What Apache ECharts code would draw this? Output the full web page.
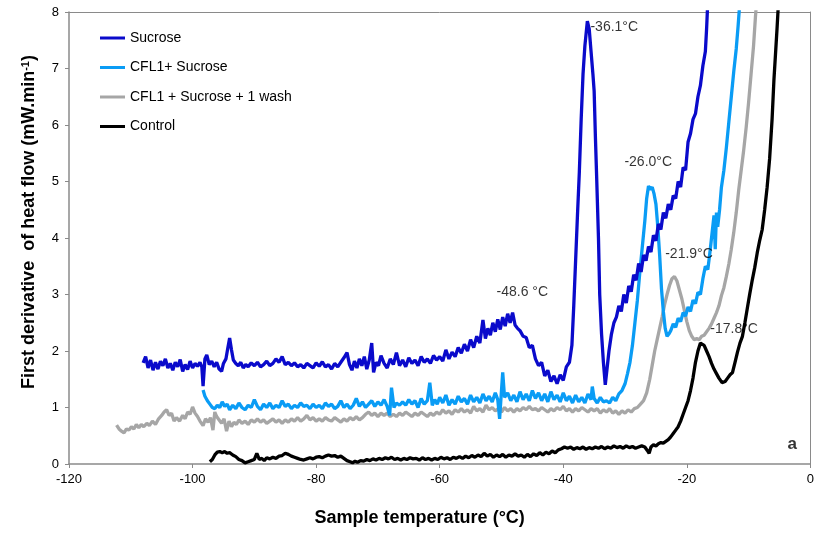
<!DOCTYPE html>
<html>
<head>
<meta charset="utf-8">
<script src="https://cdn.jsdelivr.net/npm/echarts@6/dist/echarts.min.js"></script>
<style>
  html, body { margin: 0; padding: 0; background: #fff; }
  #chart { width: 817px; height: 533px; }
</style>
</head>
<body>
<div id="chart"></div>
<script>
// [temperature °C, first derivative of heat flow mW/min]
var sucrose = [
  [-108.0,1.79],[-107.6,1.90],[-107.2,1.70],[-106.8,1.84],[-106.4,1.66],[-106.0,1.80],[-105.6,1.68],[-105.2,1.82],
  [-104.8,1.74],[-104.4,1.86],[-104.0,1.70],[-103.6,1.78],[-103.2,1.66],[-102.8,1.80],[-102.4,1.72],[-102.0,1.85],
  [-101.6,1.64],[-101.2,1.76],[-100.8,1.67],[-100.4,1.82],[-100.0,1.70],[-99.6,1.78],[-99.2,1.73],[-98.8,1.80],
  [-98.5,1.72],[-98.3,1.38],[-98.0,1.86],[-97.7,1.93],[-97.3,1.76],[-96.9,1.82],[-96.5,1.72],[-96.1,1.80],
  [-95.7,1.68],[-95.3,1.64],[-95.0,1.78],[-94.6,1.86],[-94.3,2.05],[-94.0,2.23],[-93.7,2.02],[-93.4,1.84],
  [-93.0,1.78],[-92.6,1.74],[-92.2,1.80],[-91.8,1.70],[-91.4,1.76],[-91.0,1.72],[-90.5,1.79],[-90.0,1.74],
  [-89.5,1.80],[-89.0,1.72],[-88.5,1.76],[-88.0,1.82],[-87.5,1.74],[-87.0,1.78],[-86.5,1.86],[-86.0,1.80],
  [-85.5,1.90],[-85.0,1.76],[-84.5,1.80],[-84.0,1.74],[-83.5,1.79],[-83.0,1.72],[-82.5,1.76],[-82.0,1.70],
  [-81.5,1.78],[-81.0,1.74],[-80.5,1.70],[-80.0,1.79],[-79.5,1.73],[-79.0,1.81],[-78.5,1.72],[-78.0,1.76],
  [-77.5,1.68],[-77.0,1.78],[-76.5,1.72],[-76.0,1.80],[-75.5,1.88],[-75.0,1.97],[-74.6,1.76],[-74.2,1.66],
  [-73.8,1.82],[-73.4,1.70],[-73.0,1.86],[-72.6,1.74],[-72.2,1.90],[-71.8,1.68],[-71.4,1.84],[-71.0,2.14],
  [-70.7,1.62],[-70.3,1.80],[-69.9,1.74],[-69.5,1.92],[-69.0,1.78],[-68.5,1.70],[-68.0,1.86],[-67.5,1.76],
  [-67.0,1.97],[-66.5,1.74],[-66.0,1.84],[-65.5,1.72],[-65.0,1.88],[-64.5,1.78],[-64.0,1.84],[-63.5,1.74],
  [-63.0,1.90],[-62.5,1.80],[-62.0,1.86],[-61.5,1.78],[-61.0,1.92],[-60.5,1.84],[-60.0,1.90],[-59.5,1.82],
  [-59.0,2.02],[-58.5,1.86],[-58.0,1.98],[-57.5,1.90],[-57.0,2.06],[-56.5,1.96],[-56.0,2.12],[-55.5,2.00],
  [-55.0,2.20],[-54.5,2.06],[-54.0,2.26],[-53.5,2.14],[-53.0,2.55],[-52.6,2.22],[-52.2,2.40],[-51.8,2.28],
  [-51.4,2.50],[-51.0,2.34],[-50.6,2.56],[-50.2,2.38],[-49.8,2.60],[-49.4,2.44],[-49.0,2.66],[-48.6,2.50],
  [-48.2,2.68],[-47.8,2.46],[-47.4,2.40],[-47.0,2.36],[-46.5,2.26],[-46.0,2.24],[-45.5,2.06],[-45.0,2.10],
  [-44.5,1.86],[-44.0,1.74],[-43.5,1.80],[-43.0,1.56],[-42.5,1.66],[-42.0,1.46],[-41.5,1.56],[-41.0,1.42],
  [-40.5,1.58],[-40.0,1.48],[-39.5,1.72],[-39.0,1.80],[-38.6,2.10],[-38.3,2.80],[-38.0,3.60],[-37.7,4.40],
  [-37.4,5.16],[-37.1,6.10],[-36.8,6.90],[-36.5,7.40],[-36.1,7.84],[-35.8,7.70],[-35.5,7.30],[-35.2,6.90],
  [-35.0,6.60],[-34.8,5.80],[-34.6,5.10],[-34.3,4.00],[-34.1,3.00],[-33.8,2.30],[-33.5,1.80],[-33.2,1.40],
  [-32.9,1.70],[-32.6,2.00],[-32.2,2.30],[-31.8,2.50],[-31.4,2.60],[-31.0,2.80],[-30.6,2.70],[-30.2,3.00],
  [-29.8,2.85],[-29.4,3.15],[-29.0,3.05],[-28.6,3.35],[-28.2,3.25],[-27.8,3.55],[-27.4,3.40],[-27.0,3.70],
  [-26.6,3.60],[-26.2,3.85],[-25.8,3.75],[-25.4,4.05],[-25.0,3.95],[-24.6,4.25],[-24.2,4.15],[-23.8,4.45],
  [-23.4,4.35],[-23.0,4.60],[-22.6,4.50],[-22.2,4.75],[-21.8,4.70],[-21.4,5.00],[-21.0,4.90],[-20.6,5.25],
  [-20.2,5.20],[-19.8,5.70],[-19.4,5.85],[-19.0,6.10],[-18.6,6.20],[-18.2,6.50],[-17.8,6.70],[-17.4,7.05],
  [-17.0,7.30],[-16.8,7.70],[-16.6,8.20]
];

var cfl1Sucrose = [
  [-98.3,1.31],[-98.0,1.20],[-97.6,1.12],[-97.2,1.06],[-96.8,1.00],[-96.4,0.98],[-96.0,1.04],[-95.6,1.00],
  [-95.2,1.10],[-94.8,1.02],[-94.4,1.06],[-94.0,0.96],[-93.5,1.04],[-93.0,0.98],[-92.5,1.08],[-92.0,1.00],
  [-91.5,0.96],[-91.0,1.04],[-90.5,1.00],[-90.0,1.14],[-89.5,1.02],[-89.0,0.96],[-88.5,1.06],[-88.0,1.00],
  [-87.5,1.08],[-87.0,0.98],[-86.5,1.04],[-86.0,1.00],[-85.5,1.12],[-85.0,1.02],[-84.5,1.06],[-84.0,0.98],
  [-83.5,1.04],[-83.0,1.00],[-82.5,1.08],[-82.0,1.02],[-81.5,1.04],[-81.0,0.98],[-80.5,1.06],[-80.0,1.00],
  [-79.5,1.04],[-79.0,0.98],[-78.5,1.08],[-78.0,1.02],[-77.5,1.06],[-77.0,0.98],[-76.5,1.02],[-76.0,1.12],
  [-75.5,1.00],[-75.0,1.06],[-74.5,0.98],[-74.0,1.04],[-73.5,1.16],[-73.0,1.02],[-72.5,1.10],[-72.0,1.00],
  [-71.5,1.06],[-71.0,1.12],[-70.5,1.02],[-70.0,1.10],[-69.5,1.04],[-69.0,1.14],[-68.5,1.02],[-68.1,0.86],
  [-67.8,1.35],[-67.4,1.00],[-67.0,1.08],[-66.5,1.04],[-66.0,1.10],[-65.5,1.04],[-65.0,1.14],[-64.5,1.06],
  [-64.0,1.12],[-63.5,1.00],[-63.0,1.16],[-62.5,1.06],[-62.0,1.12],[-61.6,1.44],[-61.2,1.04],[-60.8,1.14],
  [-60.4,1.06],[-60.0,1.18],[-59.5,1.08],[-59.0,1.22],[-58.5,1.04],[-58.0,1.14],[-57.5,1.06],[-57.0,1.20],
  [-56.5,1.10],[-56.0,1.16],[-55.5,1.06],[-55.0,1.22],[-54.5,1.10],[-54.0,1.18],[-53.5,1.08],[-53.0,1.24],
  [-52.5,1.12],[-52.0,1.20],[-51.5,1.10],[-51.0,1.26],[-50.6,1.14],[-50.3,0.80],[-50.0,1.30],[-49.8,1.62],
  [-49.5,1.18],[-49.0,1.26],[-48.5,1.12],[-48.0,1.22],[-47.5,1.10],[-47.0,1.28],[-46.5,1.14],[-46.0,1.24],
  [-45.5,1.12],[-45.0,1.30],[-44.5,1.16],[-44.0,1.26],[-43.5,1.12],[-43.0,1.24],[-42.5,1.10],[-42.0,1.28],
  [-41.5,1.14],[-41.0,1.22],[-40.5,1.10],[-40.0,1.26],[-39.5,1.12],[-39.0,1.20],[-38.5,1.08],[-38.0,1.22],
  [-37.5,1.10],[-37.0,1.18],[-36.5,1.08],[-36.0,1.24],[-35.5,1.14],[-35.3,1.37],[-35.0,1.16],[-34.5,1.08],
  [-34.0,1.18],[-33.5,1.10],[-33.0,1.12],[-32.5,1.08],[-32.0,1.18],[-31.5,1.12],[-31.0,1.24],[-30.5,1.30],
  [-30.0,1.42],[-29.6,1.60],[-29.2,1.80],[-28.8,2.10],[-28.4,2.50],[-28.0,2.90],[-27.6,3.40],[-27.2,3.85],
  [-26.8,4.30],[-26.5,4.70],[-26.2,4.92],[-25.9,4.86],[-25.6,4.90],[-25.3,4.78],[-25.0,4.60],[-24.7,4.20],
  [-24.4,3.70],[-24.1,3.10],[-23.8,2.70],[-23.5,2.40],[-23.2,2.26],[-22.9,2.30],[-22.6,2.36],[-22.2,2.48],
  [-21.8,2.42],[-21.4,2.58],[-21.0,2.52],[-20.6,2.68],[-20.2,2.62],[-19.8,2.78],[-19.4,2.70],[-19.0,2.90],
  [-18.6,2.84],[-18.2,3.04],[-17.8,3.00],[-17.4,3.28],[-17.0,3.50],[-16.6,3.44],[-16.2,3.80],[-15.9,3.80],
  [-15.6,4.40],[-15.4,3.80],[-15.2,4.45],[-15.0,4.20],[-14.7,4.50],[-14.4,4.90],[-14.0,5.20],[-13.6,5.60],
  [-13.2,6.05],[-12.8,6.50],[-12.4,6.95],[-12.0,7.35],[-11.7,7.75],[-11.4,8.20]
];

var cfl1Wash = [
  [-112.3,0.69],[-111.9,0.62],[-111.5,0.58],[-111.1,0.55],[-110.7,0.62],[-110.3,0.60],[-109.9,0.66],[-109.5,0.62],
  [-109.1,0.70],[-108.7,0.64],[-108.3,0.70],[-107.9,0.66],[-107.4,0.72],[-107.0,0.68],[-106.5,0.76],[-106.0,0.70],
  [-105.5,0.80],[-105.0,0.86],[-104.6,0.92],[-104.2,0.96],[-103.8,0.86],[-103.4,0.90],[-103.0,0.76],[-102.6,0.82],
  [-102.1,0.76],[-101.6,0.86],[-101.2,0.80],[-100.8,0.92],[-100.4,0.88],[-100.0,1.01],[-99.6,0.90],[-99.2,0.84],
  [-98.8,0.76],[-98.3,0.68],[-97.9,0.80],[-97.5,0.74],[-97.1,0.82],[-96.7,0.60],[-96.4,0.92],[-96.1,0.84],
  [-95.7,0.78],[-95.3,0.72],[-94.9,0.80],[-94.5,0.58],[-94.1,0.76],[-93.7,0.66],[-93.3,0.74],[-92.9,0.70],
  [-92.5,0.78],[-92.0,0.72],[-91.5,0.76],[-91.0,0.70],[-90.5,0.78],[-90.0,0.74],[-89.5,0.80],[-89.0,0.74],
  [-88.5,0.78],[-88.0,0.72],[-87.5,0.76],[-87.0,0.80],[-86.5,0.74],[-86.0,0.78],[-85.5,0.72],[-85.0,0.78],
  [-84.5,0.74],[-84.0,0.80],[-83.5,0.76],[-83.0,0.82],[-82.5,0.76],[-82.0,0.80],[-81.5,0.86],[-81.0,0.78],
  [-80.5,0.82],[-80.0,0.76],[-79.5,0.80],[-79.0,0.76],[-78.5,0.82],[-78.0,0.78],[-77.5,0.76],[-77.0,0.82],
  [-76.5,0.78],[-76.0,0.74],[-75.5,0.80],[-75.0,0.76],[-74.5,0.82],[-74.0,0.78],[-73.5,0.84],[-73.0,0.78],
  [-72.5,0.82],[-72.0,0.88],[-71.5,0.92],[-71.0,0.86],[-70.5,0.90],[-70.0,0.84],[-69.5,0.90],[-69.0,0.86],
  [-68.5,0.90],[-68.0,0.84],[-67.5,0.88],[-67.0,0.84],[-66.5,0.90],[-66.0,0.86],[-65.5,0.92],[-65.0,0.88],
  [-64.5,0.84],[-64.0,0.90],[-63.5,0.86],[-63.0,0.92],[-62.5,0.88],[-62.0,0.84],[-61.5,0.90],[-61.0,0.86],
  [-60.5,0.92],[-60.0,0.88],[-59.5,0.96],[-59.0,0.90],[-58.5,0.94],[-58.0,0.88],[-57.5,0.96],[-57.0,0.92],
  [-56.5,0.98],[-56.0,0.92],[-55.5,0.96],[-55.0,0.90],[-54.5,1.02],[-54.0,0.94],[-53.5,0.98],[-53.0,0.92],
  [-52.5,1.04],[-52.0,0.96],[-51.5,1.00],[-51.0,0.94],[-50.5,0.98],[-50.0,0.92],[-49.5,1.00],[-49.0,0.94],
  [-48.5,0.98],[-48.0,0.92],[-47.5,0.98],[-47.0,0.94],[-46.5,1.00],[-46.0,0.96],[-45.5,1.02],[-45.0,0.96],
  [-44.5,0.98],[-44.0,0.94],[-43.5,1.00],[-43.0,0.96],[-42.5,0.92],[-42.0,0.98],[-41.5,0.94],[-41.0,1.00],
  [-40.5,0.96],[-40.0,1.02],[-39.5,0.94],[-39.0,0.98],[-38.5,0.92],[-38.0,0.98],[-37.5,0.94],[-37.0,1.00],
  [-36.5,0.96],[-36.0,0.92],[-35.5,0.98],[-35.0,0.94],[-34.5,0.98],[-34.0,0.90],[-33.5,0.96],[-33.0,0.92],
  [-32.5,0.98],[-32.0,0.90],[-31.5,0.94],[-31.0,0.88],[-30.5,0.94],[-30.0,0.90],[-29.5,0.96],[-29.0,0.92],
  [-28.5,0.98],[-28.0,1.00],[-27.5,1.06],[-27.0,1.12],[-26.5,1.26],[-26.0,1.50],[-25.6,1.75],[-25.2,2.00],
  [-24.8,2.20],[-24.4,2.40],[-24.0,2.60],[-23.6,2.82],[-23.2,3.00],[-22.8,3.16],[-22.4,3.28],[-22.0,3.32],
  [-21.6,3.24],[-21.2,3.08],[-20.8,2.92],[-20.4,2.72],[-20.0,2.52],[-19.6,2.36],[-19.2,2.26],[-18.8,2.20],
  [-18.4,2.22],[-18.0,2.20],[-17.6,2.26],[-17.2,2.28],[-16.8,2.34],[-16.4,2.40],[-16.0,2.48],[-15.6,2.58],
  [-15.2,2.68],[-14.8,2.80],[-14.4,2.98],[-14.0,3.12],[-13.6,3.32],[-13.2,3.54],[-12.8,3.80],[-12.4,4.10],
  [-12.0,4.45],[-11.6,4.85],[-11.2,5.20],[-10.8,5.55],[-10.4,5.95],[-10.0,6.40],[-9.6,6.90],[-9.2,7.40],
  [-8.9,7.90],[-8.7,8.20]
];

var control = [
  [-97.2,0.04],[-96.8,0.08],[-96.4,0.16],[-96.0,0.21],[-95.6,0.22],[-95.2,0.20],[-94.8,0.22],[-94.4,0.19],
  [-94.0,0.20],[-93.5,0.16],[-93.0,0.13],[-92.5,0.08],[-92.0,0.06],[-91.5,0.02],[-91.0,0.04],[-90.5,0.06],
  [-90.0,0.08],[-89.6,0.19],[-89.2,0.08],[-88.8,0.10],[-88.4,0.06],[-88.0,0.11],[-87.5,0.09],[-87.0,0.12],
  [-86.5,0.10],[-86.0,0.14],[-85.5,0.15],[-85.0,0.19],[-84.5,0.17],[-84.0,0.14],[-83.5,0.12],[-83.0,0.10],
  [-82.5,0.08],[-82.0,0.07],[-81.5,0.09],[-81.0,0.11],[-80.5,0.09],[-80.0,0.12],[-79.5,0.13],[-79.0,0.11],
  [-78.5,0.14],[-78.0,0.16],[-77.5,0.14],[-77.0,0.15],[-76.5,0.12],[-76.0,0.14],[-75.5,0.10],[-75.0,0.06],
  [-74.5,0.04],[-74.1,0.02],[-73.7,0.05],[-73.3,0.03],[-72.8,0.06],[-72.3,0.05],[-71.8,0.08],[-71.3,0.06],
  [-70.8,0.09],[-70.3,0.07],[-69.8,0.10],[-69.3,0.08],[-68.8,0.11],[-68.3,0.09],[-67.8,0.12],[-67.3,0.08],
  [-66.8,0.10],[-66.3,0.07],[-65.8,0.10],[-65.3,0.08],[-64.8,0.11],[-64.3,0.09],[-63.8,0.10],[-63.3,0.07],
  [-62.8,0.11],[-62.3,0.08],[-61.8,0.10],[-61.3,0.07],[-60.8,0.10],[-60.3,0.08],[-59.8,0.12],[-59.3,0.09],
  [-58.8,0.11],[-58.3,0.08],[-57.8,0.12],[-57.3,0.10],[-56.8,0.13],[-56.3,0.10],[-55.8,0.14],[-55.3,0.11],
  [-54.8,0.15],[-54.3,0.12],[-53.8,0.16],[-53.3,0.13],[-52.8,0.19],[-52.3,0.14],[-51.8,0.17],[-51.3,0.12],
  [-50.8,0.16],[-50.3,0.13],[-49.8,0.17],[-49.3,0.12],[-48.8,0.16],[-48.3,0.14],[-47.8,0.18],[-47.3,0.14],
  [-46.8,0.16],[-46.3,0.12],[-45.8,0.17],[-45.3,0.13],[-44.8,0.18],[-44.3,0.15],[-43.8,0.20],[-43.3,0.16],
  [-42.8,0.21],[-42.3,0.18],[-41.8,0.23],[-41.3,0.20],[-40.8,0.25],[-40.3,0.27],[-39.8,0.30],[-39.3,0.28],
  [-38.8,0.30],[-38.3,0.26],[-37.8,0.29],[-37.3,0.27],[-36.8,0.30],[-36.3,0.26],[-35.8,0.29],[-35.3,0.27],
  [-34.8,0.30],[-34.3,0.28],[-33.8,0.31],[-33.3,0.27],[-32.8,0.30],[-32.3,0.28],[-31.8,0.32],[-31.3,0.29],
  [-30.8,0.31],[-30.3,0.28],[-29.8,0.32],[-29.3,0.29],[-28.8,0.31],[-28.3,0.28],[-27.8,0.30],[-27.3,0.32],
  [-26.8,0.30],[-26.4,0.24],[-26.1,0.19],[-25.8,0.30],[-25.4,0.34],[-25.0,0.32],[-24.6,0.36],[-24.2,0.38],
  [-23.8,0.37],[-23.4,0.40],[-23.0,0.43],[-22.6,0.48],[-22.2,0.54],[-21.8,0.60],[-21.4,0.66],[-21.0,0.76],
  [-20.6,0.88],[-20.2,1.00],[-19.8,1.12],[-19.4,1.30],[-19.0,1.52],[-18.6,1.80],[-18.2,2.00],[-17.8,2.14],
  [-17.5,2.16],[-17.2,2.10],[-16.8,2.00],[-16.4,1.90],[-16.0,1.78],[-15.6,1.68],[-15.2,1.60],[-14.8,1.52],
  [-14.3,1.44],[-13.8,1.46],[-13.4,1.52],[-13.0,1.58],[-12.6,1.62],[-12.2,1.80],[-11.8,1.98],[-11.4,2.14],
  [-11.0,2.26],[-10.6,2.50],[-10.2,2.76],[-9.8,3.02],[-9.4,3.26],[-9.0,3.48],[-8.6,3.74],[-8.2,3.96],
  [-7.8,4.15],[-7.4,4.50],[-7.0,4.90],[-6.6,5.40],[-6.2,6.10],[-5.9,6.80],[-5.6,7.34],[-5.4,7.70],[-5.2,8.10]
];

var seriesNames = ["Sucrose", "CFL1+ Sucrose", "CFL1 + Sucrose + 1 wash", "Control"];
var seriesColors = ["#0a0acb", "#0a9cf5", "#a6a6a6", "#000000"];

// peak labels: [x, y, text] (text starts at the point)
var peakLabels = [
  [-35.6, 7.73, "-36.1°C"],
  [-30.1, 5.34, "-26.0°C"],
  [-23.5, 3.72, "-21.9°C"],
  [-50.8, 3.05, "-48.6 °C"],
  [-16.2, 2.38, "-17.8°C"]
];
var panelLetter = [[-3.7, 0.34, "a"]];

var chart = echarts.init(document.getElementById("chart"));

function lineSeries(i, data) {
  return {
    name: seriesNames[i],
    type: "line",
    data: data,
    symbol: "none",
    showSymbol: false,
    clip: true,
    animation: false,
    lineStyle: { color: seriesColors[i], width: 3.3 },
    itemStyle: { color: seriesColors[i] },
    z: 10 - i
  };
}

function labelSeries(data, style) {
  return {
    type: "scatter",
    data: data,
    symbolSize: 0,
    silent: true,
    animation: false,
    label: Object.assign({
      show: true,
      position: "right",
      distance: 0,
      color: "#000",
      fontFamily: "Liberation Sans, Arial, sans-serif",
      fontSize: 14,
      formatter: function (p) { return p.data[2]; }
    }, style || {}),
    z: 20
  };
}

var axisGray = "#8a8a8a";
// plain frame axes for the top and right edges
var frameAxis = {
  show: true,
  axisLine: { show: true, onZero: false, lineStyle: { color: axisGray, width: 1 } },
  axisTick: { show: false },
  axisLabel: { show: false },
  splitLine: { show: false }
};

chart.setOption({
  animation: false,
  textStyle: { fontFamily: "Liberation Sans, Arial, sans-serif" },
  grid: { left: 69, right: 5, top: 12, bottom: 69 },
  legend: {
    data: seriesNames,
    icon: "rect",
    orient: "vertical",
    left: 100,
    top: 31,
    padding: 0,
    itemWidth: 25,
    itemHeight: 3,
    itemGap: 15.5,
    textStyle: { fontSize: 14, lineHeight: 14, color: "#000" }
  },
  xAxis: [{
    type: "value",
    min: -120,
    max: 0,
    interval: 20,
    name: "Sample temperature (°C)",
    nameLocation: "middle",
    nameGap: 45,
    nameTextStyle: { fontSize: 18, fontWeight: "bold", color: "#000", padding: [0, 40, 0, 0] },
    axisLine: { onZero: false, lineStyle: { color: axisGray, width: 1.5 } },
    axisTick: { show: true, inside: false, length: 4, lineStyle: { color: axisGray } },
    axisLabel: { fontSize: 13, color: "#000", margin: 9 },
    splitLine: { show: false }
  }, Object.assign({ type: "value", position: "top", min: -120, max: 0 }, frameAxis)],
  yAxis: [{
    type: "value",
    min: 0,
    max: 8,
    interval: 1,
    name: "{a|First derivative  of heat flow (mW.min}{s|-1}{a|)}",
    nameLocation: "middle",
    nameGap: 31,
    nameTextStyle: {
      padding: [0, 0, 0, 32],
      rich: {
        a: { fontSize: 18, fontWeight: "bold", color: "#000" },
        s: { fontSize: 11, fontWeight: "bold", color: "#000", verticalAlign: "top", padding: [0, 0, 7, 0] }
      }
    },
    axisLine: { show: true, onZero: false, lineStyle: { color: axisGray, width: 1.5 } },
    axisTick: { show: true, inside: false, length: 4, lineStyle: { color: axisGray } },
    axisLabel: { fontSize: 13, color: "#000", margin: 10 },
    splitLine: { show: false }
  }, Object.assign({ type: "value", position: "right", min: 0, max: 8 }, frameAxis)],
  series: [
    lineSeries(3, control),
    lineSeries(2, cfl1Wash),
    lineSeries(1, cfl1Sucrose),
    lineSeries(0, sucrose),
    labelSeries(peakLabels),
    labelSeries(panelLetter, { fontSize: 17, fontWeight: "bold" })
  ]
});
</script>
</body>
</html>
